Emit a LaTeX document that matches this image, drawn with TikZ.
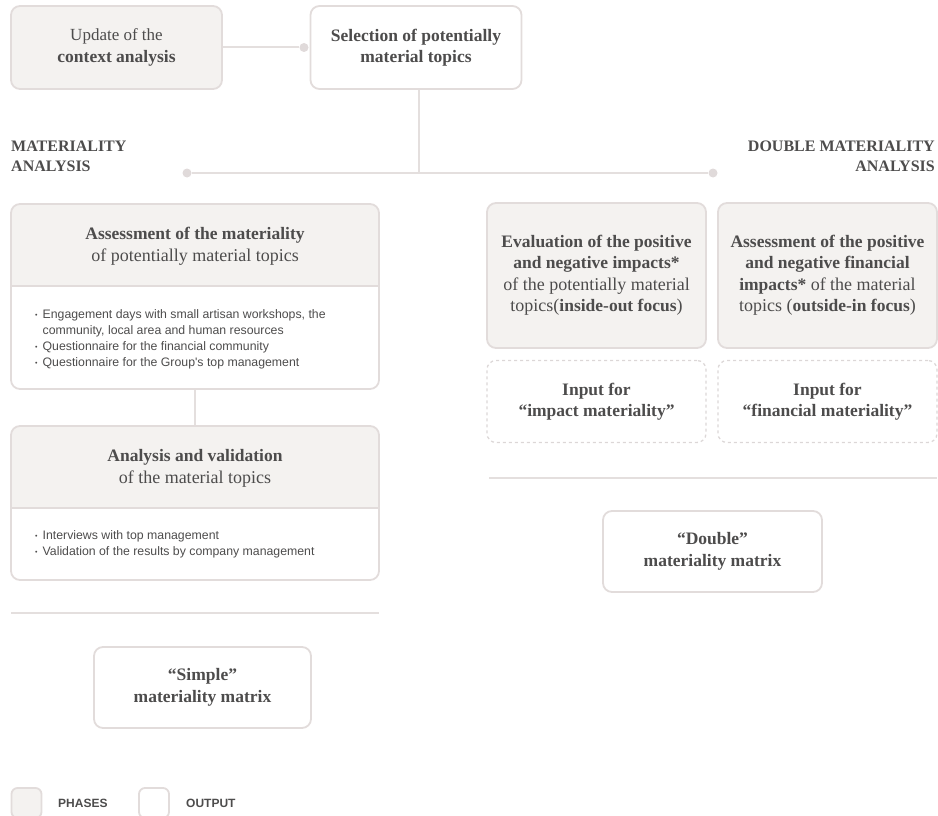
\documentclass[tikz,border=0pt]{standalone}
\usepackage{fontspec}
\setmainfont{Liberation Serif}
\newfontfamily\listfont{Liberation Sans}
\definecolor{ink}{HTML}{4D4C4C}
\definecolor{phasefill}{HTML}{F4F2F0}
\definecolor{edgecol}{HTML}{E2DCDB}
\definecolor{linecol}{HTML}{E4DFDE}
\definecolor{dashcol}{HTML}{DCD7D7}
\definecolor{dotcol}{HTML}{E0DADA}
\newcommand\boxfont{\fontsize{17.5}{21.5}\selectfont}
\newcommand\rg[1]{{\fontsize{18}{21.5}\selectfont #1}}
\newcommand\itemdot{\raisebox{1pt}{\fontsize{7}{7}\selectfont •}}
\begin{document}
\begin{tikzpicture}[x=1pt,y=-1pt,
  box/.style={rounded corners=9pt, line width=1.8pt, draw=edgecol, inner sep=0pt,
    align=center, text=ink, font=\boxfont},
  phasebox/.style={box, fill=phasefill},
  outbox/.style={box, fill=white},
  framebox/.style={box, fill=none},
  inputbox/.style={box, draw=dashcol, dash pattern=on 3pt off 3pt, line width=1.3pt},
  link/.style={draw=linecol, line width=2pt},
  divider/.style={draw=edgecol, line width=1.8pt},
  dot/.style={circle, fill=dotcol, inner sep=0pt, minimum size=9pt},
  label/.style={text=ink, font=\fontsize{16}{20}\selectfont\bfseries, inner sep=0pt},
  txt/.style={text=ink, inner sep=0pt, align=center, font=\boxfont},
  listtxt/.style={text=ink, inner sep=0pt, anchor=west,
    font=\listfont\fontsize{12.3}{16}\selectfont},
  legendtxt/.style={text=ink, inner sep=0pt, anchor=west,
    font=\listfont\fontsize{12}{14}\selectfont\bfseries}]
\useasboundingbox (0,0) rectangle (938,816);

% top row
\node[phasebox, minimum width=211pt, minimum height=83pt] (update) at (116.5,47.5)
  {{\fontsize{17}{21.5}\selectfont Update of the}\\\textbf{context analysis}};
\node[outbox, minimum width=211pt, minimum height=83pt] (select) at (416,47.5)
  {\textbf{Selection of potentially}\\\textbf{material topics}};
\node[dot] (jdot) at (304,47.5) {};
\draw[link] (update.east) -- (jdot);

% branching to the two analyses
\coordinate (split) at (419,173);
\node[dot] (ldot) at (187,173) {};
\node[dot] (rdot) at (713,173) {};
\draw[link] ([xshift=3pt]select.south) -- (split);
\draw[link] (ldot) -- (rdot);

\node[label, anchor=north west, align=left] (matlabel) at (11,141) {MATERIALITY\\ANALYSIS};
\node[label, anchor=north east, align=right] (dmatlabel) at (935,141) {DOUBLE MATERIALITY\\ANALYSIS};

% left column: assessment
\fill[phasefill] (11,286) [rounded corners=9pt] -- (11,204) -- (379,204) [sharp corners] -- (379,286) -- cycle;
\draw[divider] (11,286) -- (379,286);
\node[framebox, minimum width=368pt, minimum height=185pt] (assess) at (195,296.5) {};
\node[txt] (assesstitle) at (195,246.5)
  {\textbf{Assessment of the materiality}\\\rg{of potentially material topics}};
\node[listtxt] (assesslist) at (35,339)
  {\begin{tabular}{@{}l@{\hspace{5pt}}l@{}}
   \itemdot & Engagement days with small artisan workshops, the\\
            & community, local area and human resources\\
   \itemdot & Questionnaire for the financial community\\
   \itemdot & Questionnaire for the Group's top management
   \end{tabular}};

% left column: analysis and validation
\fill[phasefill] (11,508) [rounded corners=9pt] -- (11,426) -- (379,426) [sharp corners] -- (379,508) -- cycle;
\draw[divider] (11,508) -- (379,508);
\node[framebox, minimum width=368pt, minimum height=154pt] (analysis) at (195,503) {};
\node[txt] (analysistitle) at (195,468.5)
  {\textbf{Analysis and validation}\\\rg{of the material topics}};
\node[listtxt] (analysislist) at (35,544.5)
  {\begin{tabular}{@{}l@{\hspace{5pt}}l@{}}
   \itemdot & Interviews with top management\\
   \itemdot & Validation of the results by company management
   \end{tabular}};
\draw[link] (assess.south) -- (analysis.north);

\coordinate (lsepA) at (11,613);
\coordinate (lsepB) at (379,613);
\draw[link] (lsepA) -- (lsepB);

\node[outbox, minimum width=217pt, minimum height=81pt] (simple) at (202.5,687.5)
  {\textbf{“Simple”}\\\textbf{materiality matrix}};

% right column
\node[phasebox, minimum width=219pt, minimum height=145pt] (impact) at (596.5,275.5)
  {\textbf{Evaluation of the positive}\\\textbf{and negative impacts*}\\
   \rg{of the potentially material}\\\rg{topics(}\textbf{inside-out focus}\rg{)}};
\node[phasebox, minimum width=219pt, minimum height=145pt] (financial) at (827.5,275.5)
  {\textbf{Assessment of the positive}\\\textbf{and negative financial}\\
   \textbf{impacts*} \rg{of the material}\\\rg{topics (}\textbf{outside-in focus}\rg{)}};
\node[inputbox, minimum width=219pt, minimum height=82pt] (inimpact) at (596.5,401.5)
  {\textbf{Input for}\\\textbf{“impact materiality”}};
\node[inputbox, minimum width=219pt, minimum height=82pt] (infinancial) at (827.5,401.5)
  {\textbf{Input for}\\\textbf{“financial materiality”}};

\coordinate (rsepA) at (489,478);
\coordinate (rsepB) at (937,478);
\draw[link] (rsepA) -- (rsepB);

\node[outbox, minimum width=219pt, minimum height=81pt] (double) at (712.5,551.5)
  {\textbf{“Double”}\\\textbf{materiality matrix}};

% legend
\node[phasebox, rounded corners=6pt, minimum width=30pt, minimum height=30pt] (legphase) at (26.5,803) {};
\node[legendtxt] (legphasetxt) at (58,803) {PHASES};
\node[outbox, rounded corners=6pt, minimum width=30pt, minimum height=30pt] (legout) at (154,803) {};
\node[legendtxt] (legouttxt) at (186,803) {OUTPUT};
\end{tikzpicture}
\end{document}
